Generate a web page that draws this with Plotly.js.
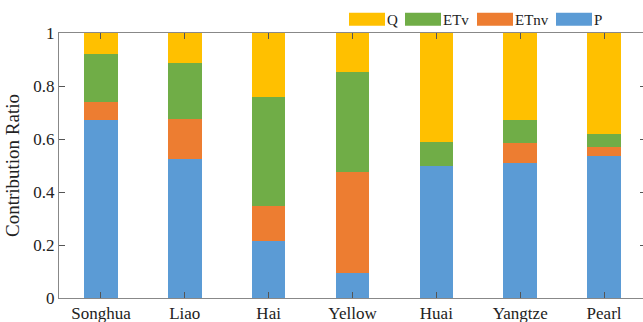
<!DOCTYPE html>
<html><head><meta charset="utf-8">
<script src="https://cdn.plot.ly/plotly-3.0.1.min.js"></script>
<style>html,body{margin:0;padding:0;overflow:hidden;background:#fff}</style>
</head><body><div id="chart"></div>
<script>
const basins = ['Songhua','Liao','Hai','Yellow','Huai','Yangtze','Pearl'];
const P    = [0.671, 0.523, 0.214, 0.096, 0.497, 0.508, 0.535];
const ETnv = [0.069, 0.152, 0.135, 0.381, 0.000, 0.076, 0.034];
const ETv  = [0.182, 0.212, 0.410, 0.375, 0.093, 0.087, 0.048];
const Q    = [0.078, 0.113, 0.241, 0.148, 0.410, 0.329, 0.383];
const yTicks = [0, 0.2, 0.4, 0.6, 0.8, 1];
const yTickText = ['0','0.2','0.4','0.6','0.8','1'];

const font = 'Liberation Serif';
const W = 646, H = 322;
function bar(name, y, color, leg){
  return {type:'bar', name:name, x:basins, y:y, width:0.4, legend:leg,
    marker:{color:color, line:{width:0}}, hoverinfo:'name+y'};
}
const data = [
  bar('P', P, '#5B9BD5', 'legend4'),
  bar('ETnv', ETnv, '#ED7D31', 'legend3'),
  bar('ETv', ETv, '#70AD47', 'legend2'),
  bar('Q', Q, '#FFC000', 'legend'),
];
function leg(px){
  return {orientation:'h', x:px/W, xanchor:'left', xref:'container',
    y:1-3/H, yanchor:'top', yref:'container', font:{family:font,size:15,color:'#222'},
    bgcolor:'rgba(0,0,0,0)', borderwidth:0, itemclick:false};
}
const layout = {
  width: W, height: H,
  margin: {l:59, r:0, t:33, b:24, pad:0, autoexpand:false},
  barmode:'stack',
  paper_bgcolor:'#fff', plot_bgcolor:'#fff',
  font:{family:font, size:17, color:'#222'},
  showlegend:true,
  legend:leg(347), legend2:leg(403), legend3:leg(475), legend4:leg(554),
  xaxis:{type:'category', range:[-0.5, 6.5], showline:true, linecolor:'#888', linewidth:1,
    mirror:'ticks', ticks:'inside', ticklen:6, tickcolor:'#555', showgrid:false, zeroline:false,
    tickfont:{family:font,size:17,color:'#222'}},
  yaxis:{range:[0,1], tickvals:yTicks, ticktext:yTickText, showline:true, linecolor:'#888', linewidth:1,
    mirror:'ticks', ticks:'inside', ticklen:6, tickcolor:'#555', showgrid:false, zeroline:false,
    tickfont:{family:font,size:17,color:'#222'},
    title:{text:'Contribution Ratio', font:{family:font,size:19,color:'#222'}, standoff:8}},
};
Plotly.newPlot('chart', data, layout, {displayModeBar:false, staticPlot:true}).then(function(){
  document.querySelectorAll('.legendpoints path').forEach(function(p){
    p.setAttribute('d','M18,6.5H-18V-6.5H18Z');
  });
});
</script></body></html>
